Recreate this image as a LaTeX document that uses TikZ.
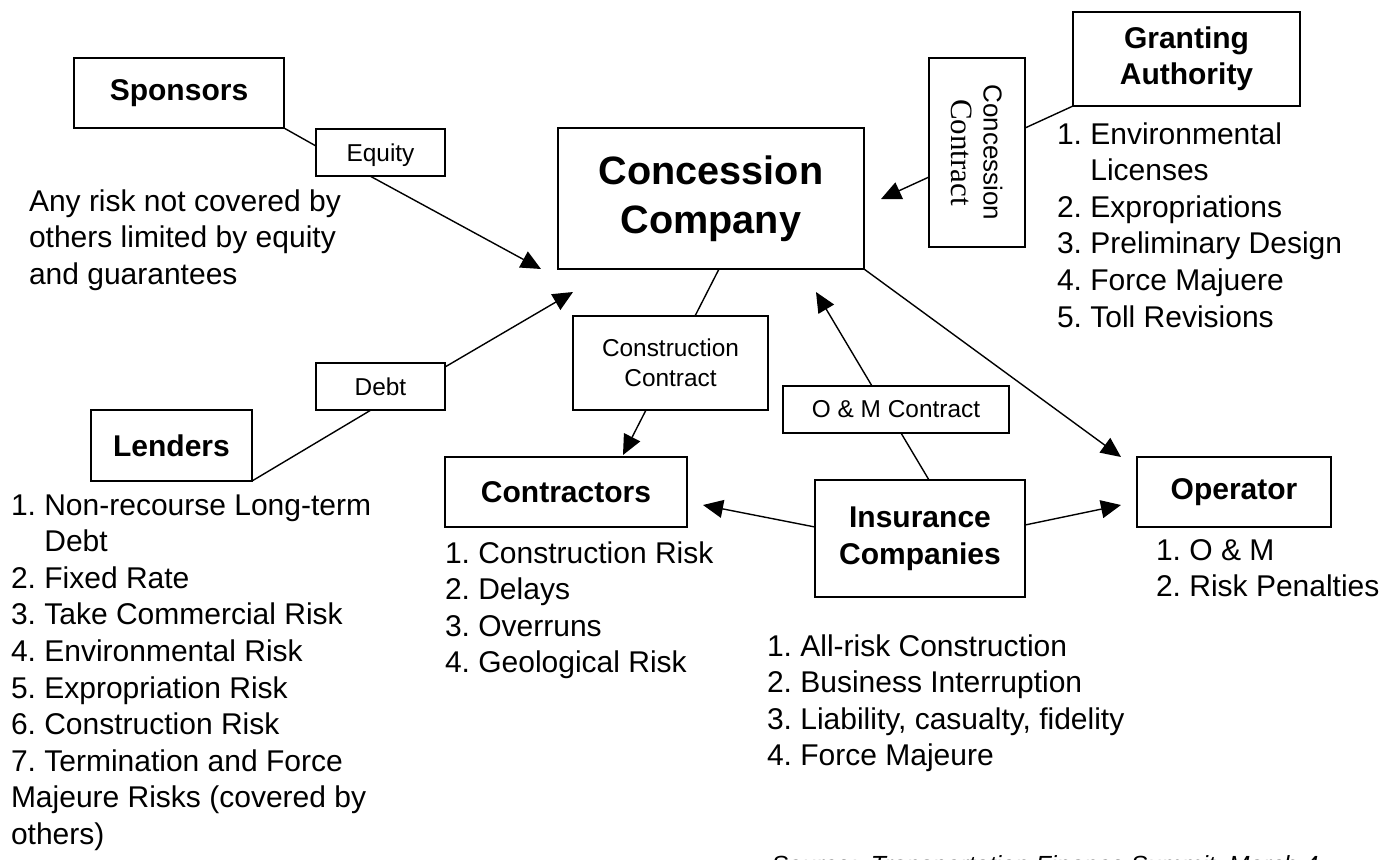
\documentclass[tikz,border=0pt]{standalone}
\usepackage{fontspec}
\setmainfont{Liberation Sans}
\newfontfamily\serifont{Liberation Serif}
\usetikzlibrary{positioning}
\usetikzlibrary{arrows.meta}
\frenchspacing

\begin{document}
\begin{tikzpicture}
[x=0.5pt, y=-0.5pt, line width=0.7pt, >={Triangle[length=10pt,width=9pt]},
  rect node/.style={rectangle, draw, inner sep=0pt, outer sep=0pt, align=center},
  party node/.style={rect node, font=\fontsize{15}{18}\selectfont\bfseries},
  deal node/.style={rect node, font=\fontsize{12.2}{15}\selectfont},
  list node/.style={inner sep=0pt, outer sep=0pt, anchor=north west, align=left,
    font=\fontsize{15}{18.3}\selectfont, execute at begin node=\strut}]

    \useasboundingbox (0,0) rectangle (1398,859);

    % the parties
    \node [party node, minimum width=153pt, minimum height=70.5pt,
      font=\fontsize{19.8}{24.5}\selectfont\bfseries] (conc) at (711,198.5) {Concession\\Company};
    \node [party node, minimum width=105pt, minimum height=35pt] (spon) at (179,93) {Sponsors};
    \node [party node, minimum width=80.5pt, minimum height=35.5pt] (lend) at (171.5,445.5) {Lenders};
    \node [party node, minimum width=113.5pt, minimum height=47pt] (grant) at (1186.5,59) {Granting\\Authority};
    \node [party node, minimum width=121pt, minimum height=35pt] (contr) at (566,492) {Contractors};
    \node [party node, minimum width=105pt, minimum height=58.5pt,
      font=\fontsize{15}{18.5}\selectfont\bfseries] (ins) at (920,538.5) {Insurance\\Companies};
    \node [party node, minimum width=97pt, minimum height=35pt] (oper) at (1234,492) {Operator};

    % the contracts
    \node [deal node, minimum width=64.5pt, minimum height=23.5pt, text depth=0pt] (equity) at (380.5,152.5) {Equity};
    \node [deal node, minimum width=64.5pt, minimum height=23.5pt] (debt) at (380.5,386.5) {Debt};
    \node [deal node, minimum width=97.5pt, minimum height=47pt] (ccontr) at (670.5,363) {Construction\\Contract};
    \node [deal node, minimum width=113pt, minimum height=23.5pt] (om) at (896,409.5) {O \& M Contract};
    \node [rect node, minimum width=48pt, minimum height=94.5pt] (ccon) at (977,152.5) {};
    \node [rotate=-90, align=center, inner sep=0pt, font=\fontsize{13}{16}\selectfont] (ccontxt) at (ccon)
      {Concession\\{\serifont\fontsize{15.5}{16}\selectfont Contract}};

    % who carries which risk
    \node [list node, below right=30.7pt and -22.5pt of spon.south west] (sponl)
      {Any risk not covered by\\others limited by equity\\and guarantees};
    \node [list node, below right=6.7pt and -40pt of lend.south west] (lendl)
      {1. Non-recourse Long-term\\\hphantom{1. }Debt\\2. Fixed Rate\\3. Take Commercial Risk\\
       4. Environmental Risk\\5. Expropriation Risk\\6. Construction Risk\\
       7. Termination and Force\\Majeure Risks (covered by\\others)};
    \node [list node, below right=8.2pt and -8pt of grant.south west] (grantl)
      {1. Environmental\\\hphantom{1. }Licenses\\2. Expropriations\\3. Preliminary Design\\
       4. Force Majuere\\5. Toll Revisions};
    \node [list node, below right=7.2pt and 0pt of contr.south west] (contrl)
      {1. Construction Risk\\2. Delays\\3. Overruns\\4. Geological Risk};
    \node [list node, below right=6.2pt and 9.5pt of oper.south west] (operl)
      {1. O \& M\\2. Risk Penalties};
    \node [list node, below right=18.7pt and -24pt of ins.south west] (insl)
      {1. All-risk Construction\\2. Business Interruption\\3. Liability, casualty, fidelity\\4. Force Majeure};

    \node [anchor=base west, inner sep=0pt, font=\fontsize{12.4}{15}\selectfont\itshape] (src)
      at (771,873) {Source:\ \ Transportation Finance Summit, March 4};

    % free ends of the arrows
    \coordinate (eqtip) at (541,269);
    \coordinate (debttip) at (573,292);
    \coordinate (cctip) at (623,455);
    \coordinate (ccontip) at (881,199);
    \coordinate (omtip) at (816,292);
    \coordinate (optip) at (1121,457);
    \coordinate (ctrtip) at (703,505);
    \coordinate (instip) at (1121,505);

    \draw (spon.south east) -- ([yshift=3.25pt]equity.west);
    \draw[->] ([xshift=-5.25pt]equity.south) -- (eqtip);
    \draw (lend.south east) -- ([xshift=-4.75pt]debt.south);
    \draw[->] ([yshift=9.75pt]debt.east) -- (debttip);
    \draw ([xshift=4pt]conc.south) -- ([xshift=12.25pt]ccontr.north);
    \draw[->] ([xshift=-12.25pt]ccontr.south) -- (cctip);
    \draw (grant.south west) -- ([yshift=12.25pt]ccon.east);
    \draw[->] ([yshift=-12.25pt]ccon.west) -- (ccontip);
    \draw[->] ([xshift=-12pt]om.north) -- (omtip);
    \draw ([xshift=2.5pt]om.south) -- ([xshift=4.5pt]ins.north);
    \draw[->] (conc.south east) -- (optip);
    \draw[->] ([yshift=5.75pt]ins.west) -- (ctrtip);
    \draw[->] ([yshift=6.75pt]ins.east) -- (instip);
\end{tikzpicture}
\end{document}
